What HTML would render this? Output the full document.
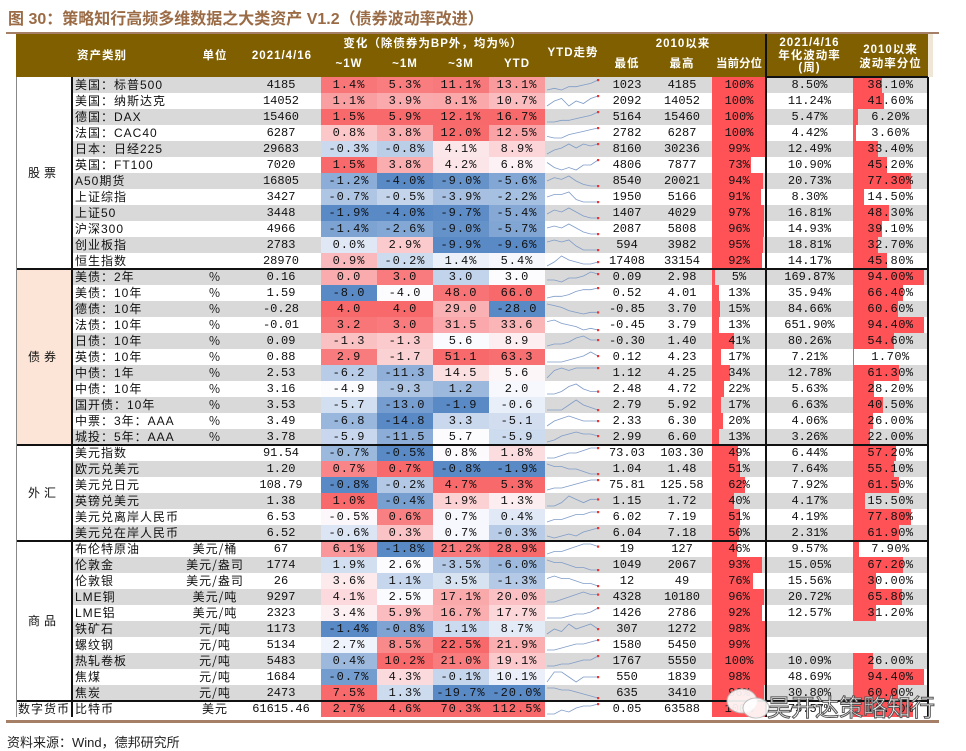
<!DOCTYPE html>
<html><head><meta charset="utf-8">
<style>
body{margin:0;background:#fff;width:966px;height:748px;overflow:hidden;position:relative;font-family:"Liberation Sans","Noto Sans CJK SC",sans-serif;}
.a{position:absolute;box-sizing:border-box;}
.t{position:absolute;font-size:12px;line-height:16px;white-space:nowrap;color:#111;font-family:"Liberation Mono","Noto Sans CJK SC",monospace;}
.h{position:absolute;color:#fff;font-weight:bold;font-size:11.5px;line-height:13px;text-align:center;white-space:nowrap;font-family:"Liberation Sans","Noto Sans CJK SC",sans-serif;letter-spacing:1px;}
</style></head><body>
<div class="a" style="left:8px;top:5px;font-size:16px;font-weight:bold;color:#9a6b45;white-space:nowrap;">图 30：策略知行高频多维数据之大类资产 V1.2（债券波动率改进）</div>
<div class="a" style="left:6px;top:32px;width:933px;height:2px;background:#a57f66;"></div>
<div class="a" style="left:16px;top:34px;width:912px;height:43px;background:#7f5f00;"></div>
<div class="a" style="left:928px;top:34px;width:5px;height:43px;background:#efe6d6;"></div>
<div class="h" style="left:72px;top:50px;width:60px;">资产类别</div>
<div class="h" style="left:195px;top:50px;width:40px;">单位</div>
<div class="h" style="left:242px;top:50px;width:80px;">2021/4/16</div>
<div class="h" style="left:321px;top:38px;width:224px;">变化（除债券为BP外，均为%）</div>
<div class="h" style="left:321px;top:58px;width:56px;">~1W</div>
<div class="h" style="left:377px;top:58px;width:56px;">~1M</div>
<div class="h" style="left:433px;top:58px;width:56px;">~3M</div>
<div class="h" style="left:489px;top:58px;width:56px;">YTD</div>
<div class="h" style="left:545px;top:47px;width:56px;">YTD走势</div>
<div class="h" style="left:600px;top:38px;width:166px;">2010以来</div>
<div class="h" style="left:600px;top:58px;width:54px;">最低</div>
<div class="h" style="left:654px;top:58px;width:56px;">最高</div>
<div class="h" style="left:710px;top:58px;width:58px;letter-spacing:0;">当前分位</div>
<div class="h" style="left:766px;top:37px;width:87px;line-height:12.5px;">2021/4/16<br>年化波动率<br>(周)</div>
<div class="h" style="left:853px;top:43px;width:75px;line-height:14px;">2010以来<br>波动率分位</div>
<div id="tb"></div>
<div class="a" style="left:6px;top:720px;width:933px;height:3px;background:#a57f66;"></div>
<div class="a" style="left:7px;top:732px;font-size:13px;color:#222;white-space:nowrap;">资料来源：Wind，德邦研究所</div>
<div class="a" style="left:722px;top:686px;width:220px;height:34px;">
<svg width="60" height="34" style="position:absolute;left:0;top:0"><ellipse cx="20" cy="15" rx="15" ry="12" fill="#fff" stroke="#bbb" opacity="0.9"/><ellipse cx="34" cy="22" rx="13" ry="10" fill="#fff" stroke="#bbb" opacity="0.9"/></svg>
<div style="position:absolute;left:45px;top:2px;font-size:24px;color:#fff;-webkit-text-stroke:1px #555;font-family:'Noto Sans CJK SC',sans-serif;white-space:nowrap;">吴开达策略知行</div></div>
<script>
const groups=['股票','债券','外汇','商品','数字货币'];
const groupSizes=[12,11,6,10,1];
const names=['美国：标普500','美国：纳斯达克','德国：DAX','法国：CAC40','日本：日经225','英国：FT100','A50期货','上证综指','上证50','沪深300','创业板指','恒生指数',
'美债：2年','美债：10年','德债：10年','法债：10年','日债：10年','英债：10年','中债：1年','中债：10年','国开债：10年','中票：3年：AAA','城投：5年：AAA',
'美元指数','欧元兑美元','美元兑日元','英镑兑美元','美元兑离岸人民币','美元兑在岸人民币',
'布伦特原油','伦敦金','伦敦银','LME铜','LME铝','铁矿石','螺纹钢','热轧卷板','焦煤','焦炭','比特币'];
const units=['','','','','','','','','','','','','%','%','%','%','%','%','%','%','%','%','%','','','','','','',
'美元/桶','美元/盎司','美元/盎司','美元/吨','美元/吨','元/吨','元/吨','元/吨','元/吨','元/吨','美元'];
const latest=['4185','14052','15460','6287','29683','7020','16805','3427','3448','4966','2783','28970',
'0.16','1.59','-0.28','-0.01','0.09','0.88','2.53','3.16','3.53','3.49','3.78',
'91.54','1.20','108.79','1.38','6.53','6.52','67','1774','26','9297','2323','1173','5134','5483','1684','2473','61615.46'];
const chg1w=[1.4,1.1,1.5,0.8,-0.3,1.5,-1.2,-0.7,-1.9,-1.4,0.0,0.9,0.0,-8.0,4.0,3.2,-1.3,2.9,-6.2,-4.9,-5.7,-6.8,-5.9,-0.7,0.7,-0.8,1.0,-0.5,-0.6,6.1,1.9,3.6,4.1,3.4,-1.4,2.7,0.4,-0.7,7.5,2.7];
const chg1m=[5.3,3.9,5.9,3.8,-0.8,3.8,-4.0,-0.5,-4.0,-2.6,2.9,-0.2,3.0,-4.0,4.0,3.0,-1.3,-1.7,-11.3,-9.3,-13.0,-14.8,-11.5,-0.5,0.7,-0.2,-0.4,0.6,0.3,-1.8,2.6,1.1,2.5,5.9,-0.8,8.5,10.2,4.3,1.3,4.6];
const chg3m=[11.1,8.1,12.1,12.0,4.1,4.2,-9.0,-3.9,-9.7,-9.0,-9.9,1.4,3.0,48.0,29.0,31.5,5.6,51.1,14.5,1.2,-1.9,3.3,5.7,0.8,-0.8,4.7,1.9,0.7,0.7,21.2,-3.5,3.5,17.1,16.7,1.1,22.5,21.0,-0.1,-19.7,70.3];
const chgYtd=[13.1,10.7,16.7,12.5,8.9,6.8,-5.6,-2.2,-5.4,-5.7,-9.6,5.4,3.0,66.0,-28.0,33.6,8.9,63.3,5.6,2.0,-0.6,-5.1,-5.9,1.8,-1.9,5.3,1.3,0.4,-0.3,28.9,-6.0,-1.3,20.0,17.7,8.7,21.9,19.1,10.1,-20.0,112.5];
const lows=['1023','2092','5164','2782','8160','4806','8540','1950','1407','2087','594','17408','0.09','0.52','-0.85','-0.45','-0.30','0.12','1.12','2.48','2.79','2.33','2.99','73.03','1.04','75.81','1.15','6.02','6.04','19','1049','12','4328','1426','307','1580','1767','550','635','0.05'];
const highs=['4185','14052','15460','6287','30236','7877','20021','5166','4029','5808','3982','33154','2.98','4.01','3.70','3.79','1.40','4.23','4.25','4.72','5.92','6.30','6.60','103.30','1.48','125.58','1.72','7.19','7.18','127','2067','49','10180','2786','1272','5450','5550','1839','3410','63588'];
const pctNow=[100,100,100,100,99,73,94,91,97,96,95,92,5,13,15,13,41,17,34,22,17,20,13,49,51,62,40,51,50,46,93,76,96,92,98,99,100,98,96,100];
const vol=['8.50%','11.24%','5.47%','4.42%','12.49%','10.90%','20.73%','8.30%','16.81%','14.93%','18.81%','14.17%','169.87%','35.94%','84.66%','651.90%','80.26%','7.21%','12.78%','5.63%','6.63%','4.06%','3.26%','6.44%','7.64%','7.92%','4.17%','4.19%','2.31%','9.57%','15.05%','15.56%','20.72%','12.57%','','','10.09%','48.69%','30.80%','75.57%'];
const volPct=[38.1,41.6,6.2,3.6,33.4,45.2,77.3,14.5,48.3,39.1,32.7,45.8,94.0,66.4,60.6,94.4,54.6,1.7,61.3,28.2,40.5,26.0,22.0,57.2,55.1,61.5,15.5,77.8,61.9,7.9,67.2,30.0,65.8,31.2,null,null,26.0,94.4,60.0,79.7];
const spark=[[3,4,3,5,5,6,7,9],[4,6,7,4,6,5,7,8],[2,2,3,3,4,5,6,8],[3,2,2,4,5,6,7,8],[3,5,6,8,6,8,7,8],[6,4,3,4,3,5,5,7],[5,7,6,8,5,3,2,2],[5,6,6,7,4,3,3,3],[4,6,5,7,5,3,2,2],[5,6,5,7,5,3,2,2],[6,7,6,7,4,2,2,2],[3,5,8,6,5,4,4,5],
[4,4,3,5,5,6,8,7],[2,3,3,4,6,7,7,8],[8,7,6,4,3,2,3,3],[7,8,6,5,4,2,3,2],[2,3,3,4,6,7,5,5],[3,3,3,4,5,6,8,6],[2,5,6,5,6,6,6,6],[3,3,4,6,7,5,4,4],[3,3,3,5,7,5,4,3],[3,5,6,7,6,5,5,5],[2,3,5,6,7,6,6,5],
[3,3,4,5,5,6,7,7],[7,6,6,5,5,4,3,3],[2,3,3,4,5,6,7,7],[3,3,4,6,5,4,5,5],[3,4,4,5,6,6,7,7],[3,2,3,4,3,5,6,7],
[3,4,4,5,6,7,7,6],[8,7,7,6,5,5,4,4],[6,7,6,6,5,4,4,3],[3,3,4,5,6,7,6,6],[3,3,3,4,5,5,6,8],[3,5,4,7,5,6,7,5],[3,3,4,5,6,6,7,8],[3,3,4,4,5,6,6,8],[5,7,7,6,5,6,6,6],[7,7,6,6,5,4,3,2],[3,3,5,4,6,7,7,8]];
const isBond=i=>i>=12&&i<=22;
const tb=document.getElementById('tb');
const Y0=77,RH=16;
function mk(css,name,txt,cls){const d=document.createElement('div');d.className=cls||'a';d.style.cssText=css;


if(txt!==undefined)d.textContent=txt;tb.appendChild(d);return d;}
function mix(c1,c2,t){return 'rgb('+c1.map((v,k)=>Math.round(v+(c2[k]-v)*t)).join(',')+')';}
const RED=[248,105,107],BLUE=[90,138,198],WHITE=[252,252,255];
function med(a){const s=[...a].sort((x,y)=>x-y);const n=s.length;return n%2?s[(n-1)/2]:(s[n/2-1]+s[n/2])/2;}
function heat(arr,i,start,size){const seg=arr.slice(start,start+size);if(size===1)return mix(WHITE,RED,1);
const m=med(seg),mx=Math.max(...seg),mn=Math.min(...seg),v=arr[i];
if(v>=m)return mix(WHITE,RED,mx===m?0:(v-m)/(mx-m));return mix(WHITE,BLUE,(m-v)/(m-mn));}
function fmt(v,i){const s=v.toFixed(1);return isBond(i)?s:s+'%';}
let r=0;const starts=[];
groups.forEach((g,gi)=>{starts.push(r);const y=Y0+r*RH,h=groupSizes[gi]*RH;
mk(`left:16px;top:${y}px;width:56px;height:${h}px;background:${gi===1?'#fce4d6':'#fff'};`,'category-'+gi);
mk(`left:16px;top:${y}px;width:56px;height:${h}px;line-height:${h}px;text-align:center;font-size:12px;letter-spacing:${gi===4?1:4}px;font-family:'Noto Sans CJK SC',sans-serif;`,'category-label',g,'t');
r+=groupSizes[gi];});
let gi=0;
for(let i=0;i<names.length;i++){
 while(i>=starts[gi]+groupSizes[gi])gi++;
 const y=Y0+i*RH,gs=starts[gi],gz=groupSizes[gi];
 const bg=i%2?'#fff':'#d9d9d9';
 mk(`left:72px;top:${y}px;width:474px;height:${RH}px;background:${bg};`,'row-bg');
 mk(`left:600px;top:${y}px;width:166px;height:${RH}px;background:${bg};`,'row-bg');
 mk(`left:766px;top:${y}px;width:162px;height:${RH}px;background:${bg};`,'row-bg');
 mk(`left:75px;top:${y}px;letter-spacing:1px;font-family:'Liberation Sans','Noto Sans CJK SC',sans-serif;`,'asset-name',names[i],'t');
 mk(`left:185px;top:${y}px;width:60px;text-align:center;letter-spacing:1px;font-family:'Noto Sans CJK SC',sans-serif;`,'unit',units[i],'t');
 mk(`left:241px;top:${y}px;width:80px;text-align:center;`,'latest-value',latest[i],'t');
 [[chg1w,321,'1w'],[chg1m,377,'1m'],[chg3m,433,'3m'],[chgYtd,489,'ytd']].forEach(([a,x,n])=>{
  mk(`left:${x}px;top:${y}px;width:56px;height:${RH}px;background:${heat(a,i,gs,gz)};`,'heat-'+n);
  mk(`left:${x}px;top:${y}px;width:56px;text-align:center;letter-spacing:1px;`,'change-'+n,fmt(a[i],i),'t');});
 const sp=spark[i],mn=Math.min(...sp),mx=Math.max(...sp);
 const pts=sp.map((v,k)=>[547+k*51/(sp.length-1),y+13-(v-mn)/(mx-mn||1)*10]);
 const svg=document.createElementNS('http://www.w3.org/2000/svg','svg');
 svg.setAttribute('style',`position:absolute;left:0;top:0;width:966px;height:748px;pointer-events:none;`);
 
 
 svg.innerHTML=`<rect x="546" y="${y}" width="54" height="16" fill="${bg}"/><polyline points="${pts.map(p=>p.join(',')).join(' ')}" fill="none" stroke="#7f9cc8" stroke-width="0.8"/><rect x="${pts[pts.length-1][0]-1}" y="${pts[pts.length-1][1]-1}" width="2.2" height="2.2" fill="#e33"/>`;
 tb.appendChild(svg);
 mk(`left:600px;top:${y}px;width:54px;text-align:center;`,'low-since-2010',lows[i],'t');
 mk(`left:654px;top:${y}px;width:56px;text-align:center;`,'high-since-2010',highs[i],'t');
 mk(`left:712px;top:${y}px;width:${54*pctNow[i]/100}px;height:${RH}px;background:#ff5257;`,'percentile-bar');
 mk(`left:712px;top:${y}px;width:54px;text-align:center;`,'percentile-value',pctNow[i]+'%','t');
 mk(`left:766px;top:${y}px;width:87px;text-align:center;`,'volatility',vol[i],'t');
 if(volPct[i]!==null){
 mk(`left:853px;top:${y}px;width:${75*volPct[i]/100}px;height:${RH}px;background:#ff5257;`,'vol-percentile-bar');
 mk(`left:853px;top:${y}px;width:75px;text-align:center;letter-spacing:0.5px;`,'vol-percentile-value',volPct[i].toFixed(2)+'%','t');}
}
const yEnd=Y0+names.length*RH;
starts.slice(1).forEach(s=>mk(`left:16px;top:${Y0+s*RH-1}px;width:912px;height:2px;background:#111;`,'group-divider'));
mk(`left:16px;top:${Y0}px;width:1px;height:${yEnd-Y0}px;background:#888;`,'table-left-border');
mk(`left:71px;top:${Y0}px;width:2px;height:${yEnd-Y0}px;background:#111;`,'category-border');
mk(`left:765px;top:34px;width:2px;height:${yEnd-34}px;background:#111;`,'volatility-separator');
mk(`left:927px;top:${Y0}px;width:2px;height:${yEnd-Y0}px;background:#111;`,'table-right-border');
mk(`left:766px;top:${Y0-1}px;width:162px;height:2px;background:#111;`,'vol-top-border');
</script>
</body></html>
